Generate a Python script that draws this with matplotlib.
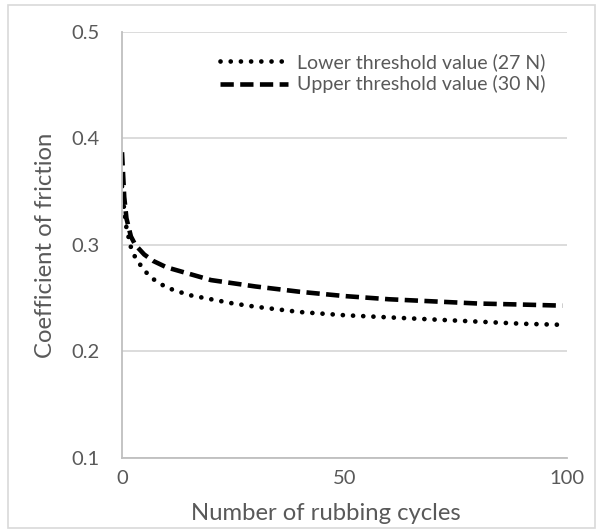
import matplotlib
matplotlib.use("Agg")
import matplotlib.pyplot as plt
from matplotlib.patches import Rectangle

plt.rcParams['font.family'] = ['Lato', 'DejaVu Sans']

# rubbing cycles (x) and coefficient of friction
upper_x = [0, 0.5, 1, 2, 3, 5, 7, 10, 15, 20, 25, 30, 40, 50, 60, 70, 80, 90, 99]
upper_y = [0.387, 0.345, 0.325, 0.308, 0.300, 0.291, 0.285, 0.279, 0.273, 0.267, 0.264, 0.261, 0.256, 0.252, 0.249, 0.247, 0.245, 0.244, 0.243]

lower_x = [0, 0.5, 1, 2, 3, 5, 7, 10, 15, 20, 25, 30, 40, 50, 60, 70, 80, 90, 99]
lower_y = [0.355, 0.332, 0.316, 0.298, 0.288, 0.276, 0.268, 0.260, 0.253, 0.249, 0.245, 0.242, 0.237, 0.234, 0.232, 0.230, 0.228, 0.226, 0.225]

series_labels = ["Lower threshold value (27 N)", "Upper threshold value (30 N)"]
x_ticks = [0, 50, 100]
y_ticks = [0.1, 0.2, 0.3, 0.4, 0.5]

grey_text = "#595959"

fig = plt.figure(figsize=(5.98, 5.31), dpi=100)
ax = fig.add_axes([0.204, 0.1375, 0.744, 0.8025])

ax.plot(lower_x, lower_y, color="black", lw=3.4, linestyle=(0, (0.01, 2.15)),
        dash_capstyle="round", label=series_labels[0])
ax.plot(upper_x, upper_y, color="black", lw=3.3, linestyle=(0, (2.9, 1.4)),
        dash_capstyle="butt", label=series_labels[1])

ax.set_xlim(0, 100)
ax.set_ylim(0.1, 0.5)
ax.set_xticks(x_ticks)
ax.set_yticks(y_ticks)
ax.set_yticklabels([f"{v:.1f}" for v in y_ticks])

ax.grid(axis="y", color="#d9d9d9", lw=1.3)
ax.set_axisbelow(True)
for side in ["top", "right"]:
    ax.spines[side].set_visible(False)
for side in ["left", "bottom"]:
    ax.spines[side].set_color("#bfbfbf")
    ax.spines[side].set_linewidth(1.3)

ax.tick_params(axis="both", length=0, labelsize=14.5, colors=grey_text)
ax.tick_params(axis="y", pad=16)
ax.tick_params(axis="x", pad=9)

ax.set_xlabel("Number of rubbing cycles", fontsize=17.2, color=grey_text)
ax.xaxis.set_label_coords(0.458, -0.105)
ax.set_ylabel("Coefficient of friction", fontsize=17.2, color=grey_text, labelpad=11)

leg = ax.legend(loc="upper right", frameon=False, fontsize=14, handlelength=3.5,
                handletextpad=0.45, labelspacing=0.22, borderaxespad=0.7,
                labelcolor=grey_text)

# light chart border like the source
fig.patches.append(Rectangle((8 / 598, 3 / 531), 587 / 598, 523 / 531,
                             transform=fig.transFigure, fill=False,
                             edgecolor="#d9d9d9", lw=1.2))

fig.savefig("out.png", dpi=100)
